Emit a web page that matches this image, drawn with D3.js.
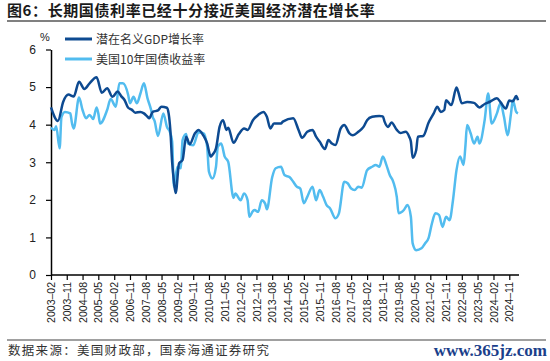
<!DOCTYPE html>
<html>
<head>
<meta charset="utf-8">
<script src="https://cdn.jsdelivr.net/npm/d3@7"></script>
<style>
  body { margin: 0; background: #fff; }
  svg { display: block; }
</style>
</head>
<body>
<svg id="chart" width="550" height="361"></svg>
<script>
// 潜在名义GDP增长率
const gdpDates = ["2003-02","2003-06","2003-09","2003-12","2004-03","2004-06","2004-09","2004-12","2005-04","2005-07","2005-10","2006-01","2006-04","2006-06","2006-08","2006-10","2006-12","2007-02","2007-05","2007-07","2007-09","2007-10","2007-12","2008-03","2008-05","2008-08","2008-09","2008-10","2008-11","2008-12","2009-01","2009-03","2009-05","2009-07","2009-09","2009-12","2010-02","2010-05","2010-07","2010-09","2010-10","2010-12","2011-02","2011-04","2011-06","2011-07","2011-10","2012-01","2012-04","2012-06","2012-09","2012-12","2013-03","2013-05","2013-07","2013-09","2014-01","2014-02","2014-08","2014-11","2015-01","2015-04","2015-07","2015-09","2015-11","2016-02","2016-04","2016-06","2016-08","2016-11","2017-01","2017-04","2017-06","2017-09","2017-12","2018-02","2018-05","2018-09","2018-11","2018-12","2019-02","2019-04","2019-07","2019-09","2019-12","2020-02","2020-03","2020-04","2020-06","2020-07","2020-10","2021-01","2021-04","2021-06","2021-08","2021-10","2021-11","2022-02","2022-05","2022-06","2022-08","2022-11","2023-03","2023-06","2023-09","2023-12","2024-04","2024-06","2024-09","2024-11","2025-01","2025-03","2025-04"];
const gdpValues = [4.46,4.10,4.61,4.80,4.75,5.14,4.95,5.10,5.26,4.85,4.97,4.74,4.88,4.76,4.65,4.45,4.40,4.32,4.34,4.30,4.21,4.17,4.34,4.38,4.48,4.45,4.30,3.85,3.00,2.50,2.18,2.97,3.06,3.68,3.48,3.77,3.86,3.70,3.50,3.15,3.20,3.37,3.94,4.12,3.86,3.92,3.52,3.75,3.90,3.86,4.12,4.26,4.34,4.21,3.90,4.03,4.03,4.08,4.17,3.86,3.65,3.81,3.86,3.68,3.55,3.35,3.59,3.50,3.46,3.90,3.99,3.77,3.72,3.81,3.94,4.12,4.21,4.23,4.22,4.08,3.94,4.06,3.86,3.78,3.81,3.68,3.55,3.12,3.32,3.68,3.70,4.05,4.30,4.48,4.34,4.39,4.65,4.52,4.99,4.87,4.57,4.60,4.58,4.46,4.55,4.61,4.70,4.60,4.43,4.64,4.62,4.76,4.65];

// 美国10年国债收益率
const yieldDates = ["2003-02","2003-04","2003-05","2003-07","2003-08","2003-10","2004-01","2004-02","2004-03","2004-06","2004-08","2004-10","2004-12","2005-02","2005-04","2005-05","2005-06","2005-10","2005-12","2006-03","2006-05","2006-07","2006-10","2006-11","2007-01","2007-03","2007-05","2007-07","2007-09","2007-11","2007-12","2008-01","2008-03","2008-06","2008-08","2008-10","2008-11","2008-12","2009-02","2009-04","2009-05","2009-07","2009-08","2009-11","2010-02","2010-05","2010-07","2010-08","2010-10","2010-12","2011-01","2011-03","2011-05","2011-07","2011-10","2011-11","2012-02","2012-04","2012-06","2012-07","2012-09","2012-10","2012-12","2013-02","2013-04","2013-05","2013-08","2013-10","2014-01","2014-03","2014-06","2014-08","2014-10","2014-12","2015-02","2015-04","2015-07","2015-09","2015-11","2016-01","2016-03","2016-05","2016-08","2016-10","2017-01","2017-03","2017-05","2017-07","2017-09","2017-11","2018-02","2018-05","2018-07","2018-09","2018-11","2019-01","2019-03","2019-05","2019-07","2019-08","2019-11","2020-01","2020-03","2020-04","2020-06","2020-09","2020-11","2021-01","2021-03","2021-05","2021-07","2021-09","2021-11","2022-01","2022-03","2022-05","2022-07","2022-09","2022-10","2022-11","2023-01","2023-03","2023-05","2023-06","2023-09","2023-11","2024-01","2024-04","2024-06","2024-08","2024-10","2024-12","2025-01","2025-03","2025-04"];
const yieldValues = [3.92,3.86,3.96,3.37,4.20,4.34,4.30,4.03,3.90,4.72,4.39,4.17,4.26,4.15,4.46,4.30,4.03,4.39,4.68,4.48,5.10,5.10,4.79,4.57,4.74,4.57,4.83,5.10,4.70,4.40,4.20,4.10,3.70,4.30,3.95,3.77,3.55,2.35,2.88,2.84,3.59,3.75,3.50,3.45,3.80,3.77,3.41,2.75,2.57,2.88,3.41,3.50,3.15,3.01,2.05,2.17,1.99,2.17,1.99,1.55,1.70,1.73,1.68,1.99,1.90,1.75,2.60,2.84,2.88,2.66,2.60,2.48,2.35,2.30,1.91,2.08,2.35,1.99,2.26,2.08,1.86,1.77,1.51,1.64,2.48,2.44,2.30,2.26,2.35,2.32,2.79,2.88,2.93,2.88,3.15,2.93,2.66,2.48,2.08,1.64,1.73,1.86,1.55,0.84,0.66,0.71,0.84,0.98,1.37,1.64,1.60,1.28,1.55,1.46,1.99,2.79,3.15,2.93,3.40,3.99,3.77,3.50,3.68,3.50,4.12,4.83,4.03,4.30,4.57,4.21,3.72,4.30,4.65,4.34,4.30];

const seriesNames = ["潜在名义GDP增长率", "美国10年国债收益率"];
const seriesColors = ["#0d4a91", "#52bcef"];
const yTicks = [0, 1, 2, 3, 4, 5, 6];
const xTickLabels = ["2003-02","2003-11","2004-08","2005-05","2006-02","2006-11","2007-08","2008-05","2009-02","2009-11","2010-08","2011-05","2012-02","2012-11","2013-08","2014-05","2015-02","2015-11","2016-08","2017-05","2018-02","2018-11","2019-08","2020-05","2021-02","2021-11","2022-08","2023-05","2024-02","2024-11"];

const title = "图6：长期国债利率已经十分接近美国经济潜在增长率";
const source = "数据来源：美国财政部，国泰海通证券研究";

const parse = d3.timeParse("%Y-%m");
const fmt = d3.timeFormat("%Y-%m");

const svg = d3.select("#chart");

const x = d3.scaleTime()
    .domain([parse("2003-02"), parse("2025-04")])
    .range([51, 518]);
const y = d3.scaleLinear().domain([0, 6]).range([275, 49.5]);

// 标题
svg.append("text")
    .attr("x", 7).attr("y", 16)
    .attr("font-family", "Noto Sans CJK SC")
    .attr("font-weight", 700)
    .attr("font-size", 15)
    .attr("letter-spacing", 0.6)
    .attr("fill", "#1a1a1a")
    .text(title);
svg.append("line")
    .attr("x1", 7).attr("x2", 546).attr("y1", 21).attr("y2", 21)
    .attr("stroke", "#808080").attr("stroke-width", 2);

// 坐标轴
const yAxis = svg.append("g")
    .attr("transform", "translate(51,0)")
    .call(d3.axisLeft(y).tickValues(yTicks).tickFormat(d3.format("d")).tickSize(5).tickSizeOuter(0));
yAxis.select(".domain").attr("stroke", "#000").attr("stroke-width", 1.5);
yAxis.selectAll("line").attr("stroke", "#000").attr("stroke-width", 1.2);
yAxis.selectAll("text")
    .attr("font-family", "Liberation Sans").attr("font-size", 12).attr("fill", "#222")
    .attr("x", -15);

const xAxis = svg.append("g")
    .attr("transform", "translate(0,275)")
    .call(d3.axisBottom(x)
        .tickValues(xTickLabels.map(parse))
        .tickFormat(d => fmt(d).replace("-", "–"))
        .tickSize(5).tickSizeOuter(0));
xAxis.select(".domain").attr("stroke", "#000").attr("stroke-width", 1.5)
    .attr("d", "M51,0H519");
xAxis.selectAll("line").attr("stroke", "#000").attr("stroke-width", 1.2);
xAxis.selectAll("text")
    .attr("font-family", "Liberation Sans").attr("font-size", 10.5).attr("fill", "#222")
    .attr("transform", "rotate(-90)")
    .attr("text-anchor", "end")
    .attr("x", -7).attr("y", 0).attr("dy", "0.35em");

svg.append("text")
    .attr("x", 40).attr("y", 41)
    .attr("font-family", "Liberation Sans").attr("font-size", 11).attr("fill", "#222")
    .text("%");

// 折线
const line = d3.line()
    .x(d => x(d.date))
    .y(d => y(d.value))
    .curve(d3.curveMonotoneX);

const series = [
    gdpDates.map((d, i) => ({ date: parse(d), value: gdpValues[i] })),
    yieldDates.map((d, i) => ({ date: parse(d), value: yieldValues[i] }))
];

// 浅色线在下，深色线在上
[1, 0].forEach(k => {
    svg.append("path")
        .datum(series[k])
        .attr("fill", "none")
        .attr("stroke", seriesColors[k])
        .attr("stroke-width", 2.5)
        .attr("stroke-linejoin", "round")
        .attr("d", line);
});

// 图例
const legend = svg.append("g");
seriesNames.forEach((name, i) => {
    const ly = 39 + i * 20;
    legend.append("line")
        .attr("x1", 65).attr("x2", 92).attr("y1", ly).attr("y2", ly)
        .attr("stroke", seriesColors[i]).attr("stroke-width", 3);
    legend.append("text")
        .attr("x", 96).attr("y", ly + 4.5)
        .attr("font-family", "Noto Sans CJK SC").attr("font-size", 12).attr("fill", "#333")
        .text(name);
});

// 底部
svg.append("line")
    .attr("x1", 7).attr("x2", 546).attr("y1", 340).attr("y2", 340)
    .attr("stroke", "#808080").attr("stroke-width", 1.5);
svg.append("text")
    .attr("x", 8).attr("y", 355)
    .attr("font-family", "Noto Sans CJK SC").attr("font-size", 12.5)
    .attr("letter-spacing", 1.3).attr("fill", "#333")
    .text(source);
svg.append("text")
    .attr("x", 547).attr("y", 356)
    .attr("text-anchor", "end")
    .attr("font-family", "Liberation Serif").attr("font-weight", 700)
    .attr("font-size", 17).attr("fill", "#1b3f8b")
    .text("www.365jz.com");
</script>
</body>
</html>
